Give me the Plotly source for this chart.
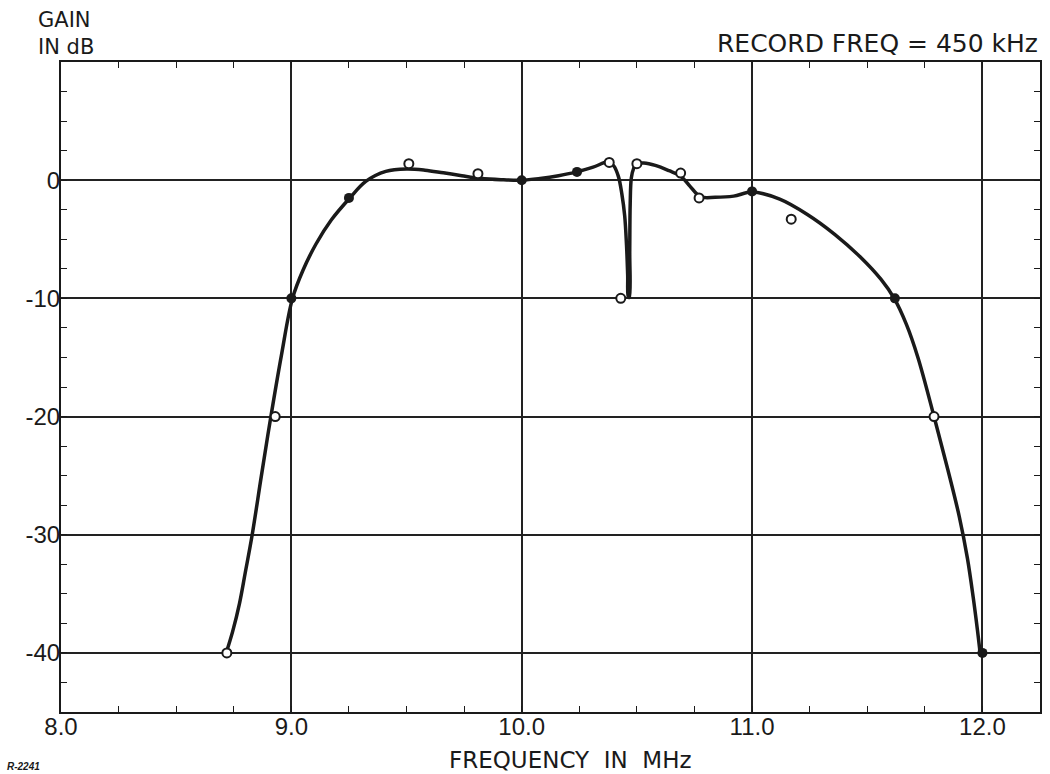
import plotly.graph_objects as go

# Smooth response curve (MHz, dB)
curve_x = [8.717, 8.745, 8.775, 8.80, 8.83, 8.87, 8.912, 8.957, 9.005,
           9.051, 9.107, 9.174, 9.254, 9.323, 9.41, 9.50,
           9.58, 9.66, 9.74, 9.82, 9.91, 10.0, 10.08, 10.16,
           10.24, 10.31, 10.377, 10.40, 10.42, 10.435, 10.447, 10.455, 10.46,
           10.463, 10.467, 10.469, 10.471, 10.476, 10.486, 10.499, 10.53, 10.58,
           10.64, 10.69, 10.73, 10.776, 10.84, 10.92, 11.0, 11.12,
           11.24, 11.36, 11.47, 11.56, 11.617, 11.67, 11.72, 11.79,
           11.85, 11.90, 11.935, 11.96, 11.978, 11.99]
curve_y = [-40, -38.2, -35.8, -33.2, -30.0, -25.0, -19.9, -14.8, -10.0,
           -7.6, -5.4, -3.35, -1.5, -0.1, 0.75, 0.95,
           0.85, 0.62, 0.38, 0.16, 0.04, 0.0, 0.15, 0.38,
           0.7, 1.1, 1.55, 1.2, 0.3, -1.2, -3.0, -5.5, -8.0,
           -9.9, -9.9, -6.0, -2.0, 0.2, 1.0, 1.4, 1.45, 1.25,
           0.8, 0.35, -0.5, -1.4, -1.45, -1.35, -1.0, -1.6,
           -2.9, -4.6, -6.5, -8.4, -10.0, -12.2, -15.0, -20.0,
           -24.5, -28.5, -32.0, -35.3, -38.0, -40.0]

# Measured points: open circles
open_x = [8.72, 8.93, 9.51, 9.81, 10.38, 10.43, 10.50, 10.69, 10.77, 11.17, 11.79]
open_y = [-40, -20, 1.4, 0.55, 1.5, -10, 1.4, 0.6, -1.5, -3.3, -20]

# Measured points: filled circles
filled_x = [9.0, 9.25, 10.0, 10.24, 11.0, 11.62, 12.0]
filled_y = [-10, -1.5, 0, 0.7, -0.95, -10, -40]

x_tickvals = [8, 9, 10, 11, 12]
x_ticktext = ["8.0", "9.0", "10.0", "11.0", "12.0"]
y_tickvals = [0, -10, -20, -30, -40]
y_ticktext = ["0", "-10", "-20", "-30", "-40"]

FONT = "Liberation Sans, Arial, sans-serif"
WIDE = "DejaVu Sans, Verdana, sans-serif"
INK = "#1a1a1a"

fig = go.Figure()
fig.add_trace(go.Scatter(
    x=curve_x, y=curve_y, mode="lines",
    line=dict(color=INK, width=3.5, shape="spline", smoothing=1.0),
    hoverinfo="skip", showlegend=False))
fig.add_trace(go.Scatter(
    x=open_x, y=open_y, mode="markers",
    marker=dict(symbol="circle", size=9, color="white",
                line=dict(color=INK, width=2)),
    showlegend=False))
fig.add_trace(go.Scatter(
    x=filled_x, y=filled_y, mode="markers",
    marker=dict(symbol="circle", size=10, color=INK),
    showlegend=False))

axis_common = dict(
    showgrid=True, gridcolor="#222222", gridwidth=1.5,
    showline=True, linecolor=INK, linewidth=2, mirror="ticks",
    zeroline=False, ticks="inside", ticklen=6, tickcolor=INK,
    tickfont=dict(family=FONT, size=24, color=INK),
)

fig.update_xaxes(
    range=[8, 12.25], tickvals=x_tickvals, ticktext=x_ticktext,
    minor=dict(dtick=0.25, tick0=8, ticks="inside", ticklen=6,
               tickcolor=INK, showgrid=False),
    ticklabelstandoff=-8,
    **axis_common)
fig.update_yaxes(
    range=[-45, 10], tickvals=y_tickvals, ticktext=y_ticktext,
    minor=dict(dtick=2.5, tick0=0, ticks="inside", ticklen=6,
               tickcolor=INK, showgrid=False),
    ticklabelstandoff=-6,
    **axis_common)

annotations = [
    dict(text="GAIN<br>IN dB", x=0, y=1, xref="paper", yref="paper",
         xanchor="left", yanchor="top", xshift=-25, yshift=56,
         align="left", showarrow=False,
         font=dict(family=WIDE, size=21, color=INK)),
    dict(text="RECORD FREQ = 450 kHz", x=1.0, y=1.0, xref="paper", yref="paper",
         xanchor="right", yanchor="bottom", yshift=2, showarrow=False,
         font=dict(family=WIDE, size=25, color=INK)),
    dict(text="FREQUENCY  IN  MHz", x=0.52, y=0, xref="paper", yref="paper",
         xanchor="center", yanchor="middle", yshift=-48, showarrow=False,
         font=dict(family=WIDE, size=23, color=INK)),
    dict(text="<b><i>R-2241</i></b>", x=0, y=0, xref="paper", yref="paper",
         xanchor="left", yanchor="top", xshift=-56, yshift=-47, showarrow=False,
         font=dict(family=FONT, size=10, color=INK)),
]

fig.update_layout(
    width=1050, height=774,
    margin=dict(l=61, r=8, t=62, b=62),
    paper_bgcolor="white", plot_bgcolor="white",
    annotations=annotations,
    font=dict(family=FONT, color=INK),
)

fig.write_html("out.html")
